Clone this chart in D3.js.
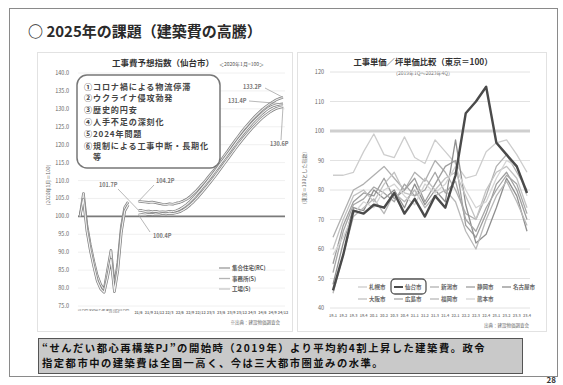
<!DOCTYPE html>
<html lang="ja">
<head>
<meta charset="utf-8">
<script src="https://cdn.jsdelivr.net/npm/d3@7"></script>
<style>
  html, body { margin: 0; padding: 0; background: #fff; }
  svg { display: block; font-family: "Noto Sans CJK JP", "Noto Sans", sans-serif; }
</style>
</head>
<body>
<svg id="slide" width="563" height="385"></svg>
<script>
// ---------- data ----------
const pageTitle = "○ 2025年の課題（建築費の高騰）";

// left panel: construction cost index, Sendai (2020.1 = 100)
const costTitle = "工事費予想指数（仙台市）";
const costSub = "＜2020年1月=100＞";
const costPeriods = [
  "20.1","20.2","20.3","20.4","20.5","20.6","20.7","20.8","20.9","20.10","20.11","20.12",
  "21.1","21.2","21.3","21.4","21.5","21.6","21.7","21.8","21.9","21.10","21.11","21.12",
  "22.1","22.2","22.3","22.4","22.5","22.6","22.7","22.8","22.9","22.10","22.11","22.12",
  "23.1","23.2","23.3","23.4","23.5","23.6","23.7","23.8","23.9","23.10","23.11","23.12",
  "24.1","24.2","24.3","24.4","24.5","24.6","24.7","24.8","24.9","24.10","24.11","24.12"
];
const costNames = ["集合住宅(RC)", "事務所(S)", "工場(S)"];
const costHousing = [
  100, 106.4, 97.5, 92, 87.5, 83.5, 81, 79.5, 85, 90.5, 80.5, 87, 97, 102.5, 104,
  null, null,
  104.2, 104.1, 104.0, 103.9, 104.0, 103.8, 103.6, 103.4, 103.3, 103.5, 103.4, 103.7, 103.9, 104.3,
  104.8, 105.5, 106.4, 107.3, 108.4, 109.4, 110.6, 111.8, 112.9, 114.2, 115.6, 117.0, 118.3, 119.7,
  121.0, 122.3, 123.6, 124.8, 125.9, 127.0, 128.0, 128.9, 129.8, 130.6, 131.3, 131.9, 132.5, 132.9, 133.2
];
const costOffice = [
  100, 104.8, 96, 90.5, 86, 82, 79.8, 78.8, 83, 88, 79, 85, 95.5, 101.5, 103.2,
  null, null,
  101.7, 101.6, 101.4, 101.5, 101.3, 101.4, 101.2, 101.3, 101.2, 101.4, 101.3, 101.6, 102.0, 102.6,
  103.3, 104.2, 105.2, 106.3, 107.4, 108.6, 109.8, 111.0, 112.3, 113.6, 114.9, 116.2, 117.5, 118.8,
  120.1, 121.4, 122.6, 123.8, 124.9, 126.0, 127.0, 127.9, 128.8, 129.6, 130.3, 130.8, 131.1, 131.3, 131.4
];
const costFactory = [
  null, null, null, null, null, null, null, null, null, null, null, null, null, null, null,
  null, null,
  100.4, 100.5, 100.4, 100.6, 100.5, 100.7, 100.6, 100.8, 100.7, 100.9, 100.8, 101.0, 101.3, 101.8,
  102.4, 103.2, 104.1, 105.1, 106.2, 107.3, 108.5, 109.7, 110.9, 112.2, 113.5, 114.8, 116.1, 117.4,
  118.7, 120.0, 121.2, 122.4, 123.5, 124.6, 125.6, 126.6, 127.5, 128.3, 129.0, 129.6, 130.1, 130.4, 130.6
];
const costTicks = [75, 80, 85, 90, 95, 100, 105, 110, 115, 120, 125, 130, 135, 140];
const causes = [
  "①コロナ禍による物流停滞",
  "②ウクライナ侵攻勃発",
  "③歴史的円安",
  "④人手不足の深刻化",
  "⑤2024年問題",
  "⑥規制による工事中断・長期化",
  "　等"
];
const costSource = "※出典：建設物価調査会";

// right panel: unit construction price by designated city (Tokyo = 100)
const unitTitle = "工事単価／坪単価比較（東京＝100）";
const unitSub = "（2019年1Q〜2023年4Q）";
const quarters = [
  "19.1","19.2","19.3","19.4","20.1","20.2","20.3","20.4","21.1","21.2",
  "21.3","21.4","22.1","22.2","22.3","22.4","23.1","23.2","23.3","23.4"
];
const cities = ["札幌市","仙台市","新潟市","静岡市","名古屋市","大阪市","広島市","福岡市","熊本市"];
const sapporo  = [85, 85, 86, 93, 99, 92, 91, 98, 91, 89, 97, 93, 89, 84, 85, 93, 96, 97, 92, 86];
const sendai   = [46, 58, 73, 72, 75, 74, 79, 72, 77, 71, 78, 74, 85, 106, 110, 115, 96, 92, 88, 79];
const niigata  = [64, 72, 80, 82, 85, 88, 84, 80, 86, 83, 90, 86, 80, 72, 70, 78, 88, 92, 86, 80];
const shizuoka = [55, 68, 76, 79, 78, 84, 77, 80, 84, 76, 82, 88, 90, 68, 64, 72, 82, 86, 80, 70];
const nagoya   = [48, 62, 74, 73, 80, 77, 80, 74, 82, 75, 80, 76, 97, 75, 62, 65, 74, 84, 78, 66];
const osaka    = [60, 70, 78, 80, 76, 82, 86, 79, 78, 84, 80, 84, 86, 78, 70, 80, 86, 88, 84, 74];
const hiroshima= [52, 66, 75, 77, 81, 79, 76, 82, 78, 80, 86, 79, 83, 70, 66, 74, 80, 85, 82, 72];
const fukuoka  = [45, 58, 71, 74, 77, 72, 79, 76, 80, 74, 78, 80, 76, 66, 60, 70, 78, 83, 76, 68];
const kumamoto = [58, 64, 72, 76, 74, 80, 82, 78, 75, 82, 79, 82, 88, 80, 74, 76, 84, 90, 88, 78];
const unitTicks = [40, 50, 60, 70, 80, 90, 100, 110, 120];
const unitSource = "出典：建設物価調査会";

const noteLines = [
  "“せんだい都心再構築PJ”の開始時（2019年）より平均約4割上昇した建築費。政令",
  "指定都市中の建築費は全国一高く、今は三大都市圏並みの水準。"
];
const pageNo = "28";

// ---------- drawing ----------
const svg = d3.select("#slide");

svg.append("rect").attr("width", 563).attr("height", 385).attr("fill", "#fff");
svg.append("rect").attr("x", 9.5).attr("y", 8.5).attr("width", 548).attr("height", 368)
  .attr("fill", "none").attr("stroke", "#8a8a8a").attr("stroke-width", 1);

svg.append("text").attr("x", 28).attr("y", 37).attr("font-size", 15).attr("font-weight", 700)
  .attr("fill", "#2a2a2a").text(pageTitle);

// panel frames
[[37, 52, 255, 279], [297, 52, 249, 279]].forEach(([x, y, w, h]) => {
  svg.append("rect").attr("x", x + 0.5).attr("y", y + 0.5).attr("width", w).attr("height", h)
    .attr("fill", "#fff").attr("stroke", "#e2e2e2");
});

// ===== left panel =====
const L = svg.append("g");
const xL = d3.scaleLinear().domain([0, costPeriods.length - 1]).range([80, 283]);
const yL = d3.scaleLinear().domain([75, 140]).range([306, 73]);

L.append("text").attr("x", 163).attr("y", 66).attr("text-anchor", "middle")
  .attr("font-size", 8.5).attr("font-weight", 700).attr("fill", "#333").text(costTitle);
L.append("text").attr("x", 219).attr("y", 66).attr("font-size", 5)
  .attr("fill", "#555").text(costSub);

L.selectAll("line.grid").data(costTicks).join("line").attr("class", "grid")
  .attr("x1", 78).attr("x2", 285).attr("y1", d => yL(d)).attr("y2", d => yL(d))
  .attr("stroke", d => d === 100 ? "#7a7a7a" : "#ececec")
  .attr("stroke-width", d => d === 100 ? 1.6 : 0.8);

L.selectAll("text.ytick").data(costTicks).join("text").attr("class", "ytick")
  .attr("x", 69).attr("y", d => yL(d) + 2).attr("text-anchor", "end")
  .attr("font-size", 5.5).attr("fill", "#666").text(d => d3.format(".1f")(d));

L.append("text").attr("transform", "translate(50,185) rotate(-90)")
  .attr("text-anchor", "middle").attr("font-size", 5).attr("fill", "#666")
  .text("（2020年1月＝100）");

// x tick labels: every month before the gap (vertical), quarterly after it
const leftTickIdx = d3.range(0, 15);
const rightTickIdx = d3.range(17, costPeriods.length, 3);
L.selectAll("text.xm").data(leftTickIdx).join("text").attr("class", "xm")
  .attr("transform", d => `translate(${xL(d) + 1.2},${309}) rotate(-90)`)
  .attr("text-anchor", "end")
  .attr("font-size", 3.4).attr("font-weight", 700).attr("fill", "#777")
  .text(d => costPeriods[d].split(".")[1]);
L.selectAll("text.xq").data(rightTickIdx).join("text").attr("class", "xq")
  .attr("x", d => xL(d)).attr("y", 314).attr("text-anchor", "middle")
  .attr("font-size", 3.8).attr("font-weight", 700).attr("fill", "#777")
  .text(d => costPeriods[d].replace(".", "/"));
L.append("text").attr("x", 280).attr("y", 324).attr("text-anchor", "end")
  .attr("font-size", 4.5).attr("fill", "#666").text(costSource);

const lineL = d3.line().defined(d => d != null).x((d, i) => xL(i)).y(d => yL(d));
const costSeries = [costHousing, costOffice, costFactory];
const costColors = ["#9a9a9a", "#b4b4b4", "#c8c8c8"];
costSeries.forEach((s, k) => {
  L.append("path").datum(s).attr("d", lineL).attr("fill", "none")
    .attr("stroke", "#7d7d7d").attr("stroke-width", 2.6).attr("stroke-linejoin", "round");
  L.append("path").datum(s).attr("d", lineL).attr("fill", "none")
    .attr("stroke", k === 0 ? "#e6e6e6" : "#f2f2f2")
    .attr("stroke-width", 1.2).attr("stroke-linejoin", "round");
});

// value call-outs
const lastIdx = costPeriods.length - 1;
const callouts = [
  { s: costHousing, i: 17, label: "104.2P", lx: 156, ly: 183, ax: 154, ay: 185 },
  { s: costOffice, i: 17, label: "101.7P", lx: 99, ly: 187, ax: 118, ay: 189 },
  { s: costFactory, i: 17, label: "100.4P", lx: 153, ly: 238, ax: 150, ay: 232 },
  { s: costHousing, i: lastIdx, label: "133.2P", lx: 243, ly: 89, ax: 265, ay: 88 },
  { s: costOffice, i: lastIdx, label: "131.4P", lx: 228, ly: 103, ax: 249, ay: 101 },
  { s: costFactory, i: lastIdx, label: "130.6P", lx: 270, ly: 146, ax: 281, ay: 140 }
];
callouts.forEach(c => {
  L.append("line").attr("x1", c.ax).attr("y1", c.ay).attr("x2", xL(c.i)).attr("y2", yL(c.s[c.i]))
    .attr("stroke", "#999").attr("stroke-width", 0.7);
  L.append("text").attr("x", c.lx).attr("y", c.ly).attr("font-size", 5.5).attr("font-weight", 700)
    .attr("fill", "#777").text(c.label);
});

// causes box
L.append("rect").attr("x", 77).attr("y", 75).attr("width", 143).attr("height", 93)
  .attr("rx", 10).attr("fill", "#fff").attr("stroke", "#777").attr("stroke-width", 1.5);
L.selectAll("text.cause").data(causes).join("text").attr("class", "cause")
  .attr("x", 84).attr("y", (d, i) => 89.5 + i * 11.8)
  .attr("font-size", 8.1).attr("letter-spacing", 0.85)
  .attr("font-weight", 700).attr("fill", "#444").text(d => d);

// legend
costNames.forEach((n, k) => {
  const y = 268 + k * 10.5;
  L.append("line").attr("x1", 219).attr("x2", 230).attr("y1", y).attr("y2", y)
    .attr("stroke", costColors[k]).attr("stroke-width", 1.3);
  L.append("text").attr("x", 232).attr("y", y + 2).attr("font-size", 5.5).attr("font-weight", 700)
    .attr("fill", "#555").text(n);
});

// ===== right panel =====
const R = svg.append("g");
const xR = d3.scalePoint().domain(quarters).range([333, 527]);
const yR = d3.scaleLinear().domain([40, 120]).range([308, 72]);

R.append("text").attr("x", 423).attr("y", 65).attr("text-anchor", "middle")
  .attr("font-size", 8.3).attr("font-weight", 700).attr("fill", "#333").text(unitTitle);
R.append("text").attr("x", 423).attr("y", 75).attr("text-anchor", "middle")
  .attr("font-size", 5).attr("fill", "#666").text(unitSub);

R.selectAll("line.grid").data(unitTicks).join("line").attr("class", "grid")
  .attr("x1", 330).attr("x2", 530).attr("y1", d => yR(d)).attr("y2", d => yR(d))
  .attr("stroke", d => d === 100 ? "#cfcfcf" : "#e2e2e2")
  .attr("stroke-width", d => d === 100 ? 3 : 1);
R.selectAll("text.ytick").data(unitTicks).join("text").attr("class", "ytick")
  .attr("x", 324).attr("y", d => yR(d) + 2).attr("text-anchor", "end")
  .attr("font-size", 5.5).attr("fill", "#666").text(d => d);
R.append("text").attr("transform", "translate(306,178) rotate(-90)")
  .attr("text-anchor", "middle").attr("font-size", 5).attr("fill", "#666")
  .text("（東京＝100とした指数）");
R.selectAll("text.xtick").data(quarters).join("text").attr("class", "xtick")
  .attr("x", d => xR(d)).attr("y", 317).attr("text-anchor", "middle")
  .attr("font-size", 3.8).attr("font-weight", 700).attr("fill", "#888").text(d => d);
R.append("text").attr("x", 529).attr("y", 327).attr("text-anchor", "end")
  .attr("font-size", 4.5).attr("fill", "#666").text(unitSource);

const citySeries = [sapporo, sendai, niigata, shizuoka, nagoya, osaka, hiroshima, fukuoka, kumamoto];
const cityColors = ["#cdcdcd", "#4a4a4a", "#b0b0b0", "#9e9e9e", "#8f8f8f", "#c2c2c2", "#a6a6a6", "#b8b8b8", "#d4d4d4"];
const lineR = d3.line().x((d, i) => xR(quarters[i])).y(d => yR(d));
citySeries.forEach((s, k) => {
  if (k === 1) return;
  R.append("path").datum(s).attr("d", lineR).attr("fill", "none")
    .attr("stroke", cityColors[k]).attr("stroke-width", 1.3).attr("stroke-linejoin", "round");
});
R.append("path").datum(sendai).attr("d", lineR).attr("fill", "none")
  .attr("stroke", cityColors[1]).attr("stroke-width", 2.4).attr("stroke-linejoin", "round");

// legend: 5 + 4 items, Sendai boxed
cities.forEach((n, k) => {
  const row = k < 5 ? 0 : 1;
  const col = k < 5 ? k : k - 5;
  const x = 358 + col * 36;
  const y = 287 + row * 12;
  R.append("line").attr("x1", x).attr("x2", x + 9).attr("y1", y).attr("y2", y)
    .attr("stroke", cityColors[k]).attr("stroke-width", k === 1 ? 2 : 1.3);
  R.append("text").attr("x", x + 11).attr("y", y + 2).attr("font-size", 5.5).attr("font-weight", 700)
    .attr("fill", "#666").text(n);
  if (k === 1) {
    R.append("rect").attr("x", x - 3).attr("y", y - 8).attr("width", 35).attr("height", 15)
      .attr("rx", 4).attr("fill", "none").attr("stroke", "#555").attr("stroke-width", 1.3);
  }
});

// ===== bottom note =====
svg.append("rect").attr("x", 38.5).attr("y", 338.5).attr("width", 484).attr("height", 35)
  .attr("fill", "#c9c9c9").attr("stroke", "#555").attr("stroke-width", 1);
svg.selectAll("text.note").data(noteLines).join("text").attr("class", "note")
  .attr("x", 42).attr("y", (d, i) => 352 + i * 15.2)
  .attr("font-size", 10.3).attr("letter-spacing", 1.5)
  .attr("font-weight", 700).attr("fill", "#111").text(d => d);

svg.append("text").attr("x", 556).attr("y", 383).attr("text-anchor", "end")
  .attr("font-size", 8).attr("font-weight", 700).attr("fill", "#333").text(pageNo);
</script>
</body>
</html>
